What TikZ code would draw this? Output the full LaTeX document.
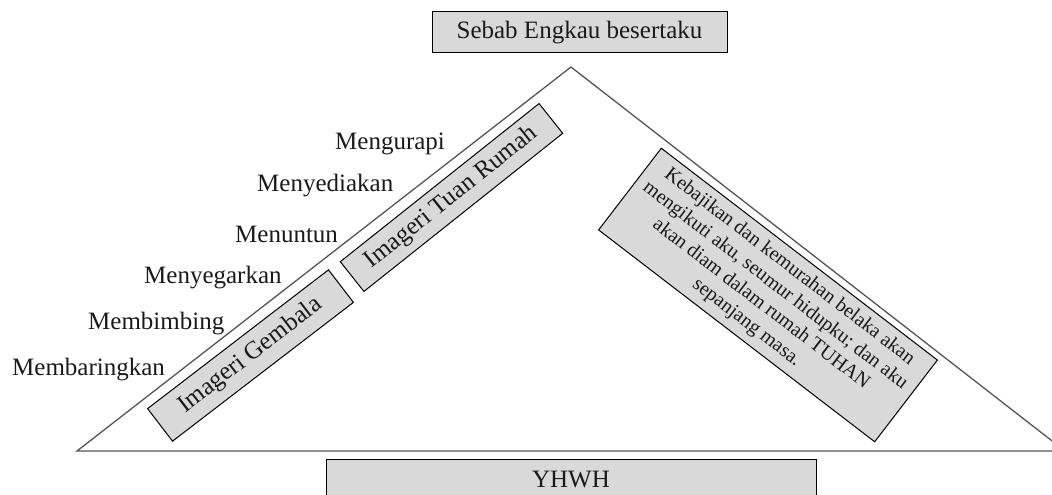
\documentclass[tikz,border=0pt]{standalone}
\usepackage{fontspec}
\setmainfont{Liberation Serif}
\definecolor{boxgray}{HTML}{D9D9D9}
\definecolor{linegray}{HTML}{555555}
\definecolor{txt}{HTML}{1A1A1A}
\begin{document}
\begin{tikzpicture}[x=1pt,y=-1pt,
  graybox/.style={draw=black,line width=1pt,fill=boxgray,inner sep=0pt,align=center,text=txt,font=\fontsize{25}{30}\selectfont},
  verb/.style={anchor=base west,inner sep=0pt,text=txt,font=\fontsize{25}{30}\selectfont}]
\clip (0,0) rectangle (1052,495);
% triangle
\coordinate (apex) at (571,67);
\coordinate (bl) at (77,451);
\coordinate (br) at (1065,451);
\draw[linegray,line width=1.3pt] (bl) -- (apex) -- (br) -- cycle;
% top and bottom boxes
\node[graybox,minimum width=295pt,minimum height=41pt] (top) at (579.5,32.5) {Sebab Engkau besertaku};
\node[graybox,minimum width=490pt,minimum height=40pt] (yhwh) at (571,479) {YHWH};
% rotated boxes
\node[graybox,rotate=37.5,minimum width=228pt,minimum height=41pt] (gembala) at (250.5,355.5) {Imageri Gembala};
\node[graybox,rotate=38.5,minimum width=254pt,minimum height=38pt] (tuan) at (451.5,197.5) {Imageri Tuan Rumah};
\node[graybox,rotate=-37.5,minimum width=348pt,minimum height=103pt,font=\fontsize{20}{23.4}\selectfont] (verse) at (768,295)
  {Kebajikan dan kemurahan belaka akan\\mengikuti aku, seumur hidupku; dan aku\\akan diam dalam rumah TUHAN\\sepanjang masa.};
% verbs
\node[verb] (v1) at (335,149) {Mengurapi};
\node[verb] (v2) at (257,191) {Menyediakan};
\node[verb] (v3) at (235,242) {Menuntun};
\node[verb] (v4) at (144,283) {Menyegarkan};
\node[verb] (v5) at (88,329) {Membimbing};
\node[verb] (v6) at (12,375) {Membaringkan};
\end{tikzpicture}
\end{document}
